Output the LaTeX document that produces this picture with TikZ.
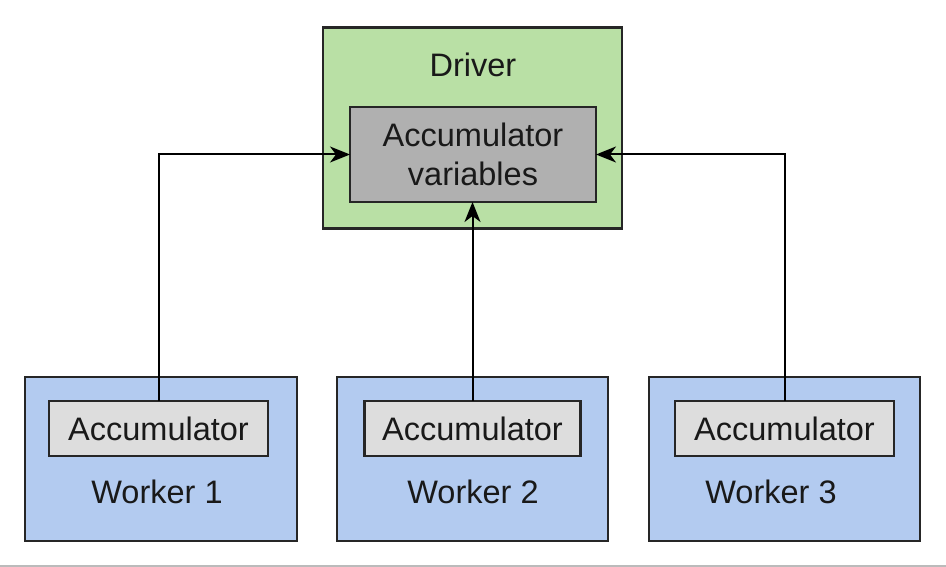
\documentclass[tikz,border=0pt]{standalone}
\usepackage{fontspec}
\setmainfont{Liberation Sans}
\usetikzlibrary{arrows.meta}
\definecolor{drivergreen}{HTML}{B9E0A5}
\definecolor{vargray}{HTML}{B0B0B0}
\definecolor{accgray}{HTML}{DDDDDD}
\definecolor{workerblue}{HTML}{B3CBF0}
\definecolor{rulegray}{HTML}{BBBBBB}
\tikzset{
  box/.style={draw=black!85, line width=2.6pt, rectangle, inner sep=0pt, outer sep=0pt},
  lbl/.style={font=\fontsize{32.5}{39}\selectfont, inner sep=0pt, align=center, text=black!90},
  conn/.style={line width=2pt, -{Stealth[length=20pt,width=16pt,inset=6pt]}},
}
\begin{document}
\begin{tikzpicture}[x=1pt,y=-1pt]
\useasboundingbox (0,0) rectangle (946,567);
\fill[white] (0,0) rectangle (946,567);
% bottom rule
\coordinate (rl) at (0,565.5);
\coordinate (rr) at (946,565.5);
\draw[rulegray, line width=2pt] (rl) -- (rr);
% driver
\node[box, fill=drivergreen, minimum width=299pt, minimum height=201pt] (driver) at (472.5,128) {};
\node[lbl] (drivertxt) at (473,65) {Driver};
\node[box, fill=vargray, minimum width=246pt, minimum height=95pt, lbl] (vars) at (473,154.5) {Accumulator\\[0pt]variables};
% workers
\node[box, fill=workerblue, minimum width=272pt, minimum height=164pt] (w1) at (161,459) {};
\node[box, fill=workerblue, minimum width=271pt, minimum height=164pt] (w2) at (472.5,459) {};
\node[box, fill=workerblue, minimum width=271pt, minimum height=164pt] (w3) at (784.5,459) {};
\node[box, fill=accgray, minimum width=219pt, minimum height=55pt, lbl] (a1) at (158.5,428.5) {Accumulator};
\node[box, fill=accgray, minimum width=216pt, minimum height=55pt, lbl] (a2) at (472.5,428.5) {Accumulator};
\node[box, fill=accgray, minimum width=219pt, minimum height=55pt, lbl] (a3) at (784.5,428.5) {Accumulator};
\node[lbl] (w1txt) at (157,492) {Worker 1};
\node[lbl] (w2txt) at (473,492) {Worker 2};
\node[lbl] (w3txt) at (771,492) {Worker 3};
% connectors
\draw[conn] (a1.north) |- (vars.west);
\draw[conn] (a3.north) |- (vars.east);
\draw[conn] (a2.north) -- (vars.south -| a2.north);
\end{tikzpicture}
\end{document}
